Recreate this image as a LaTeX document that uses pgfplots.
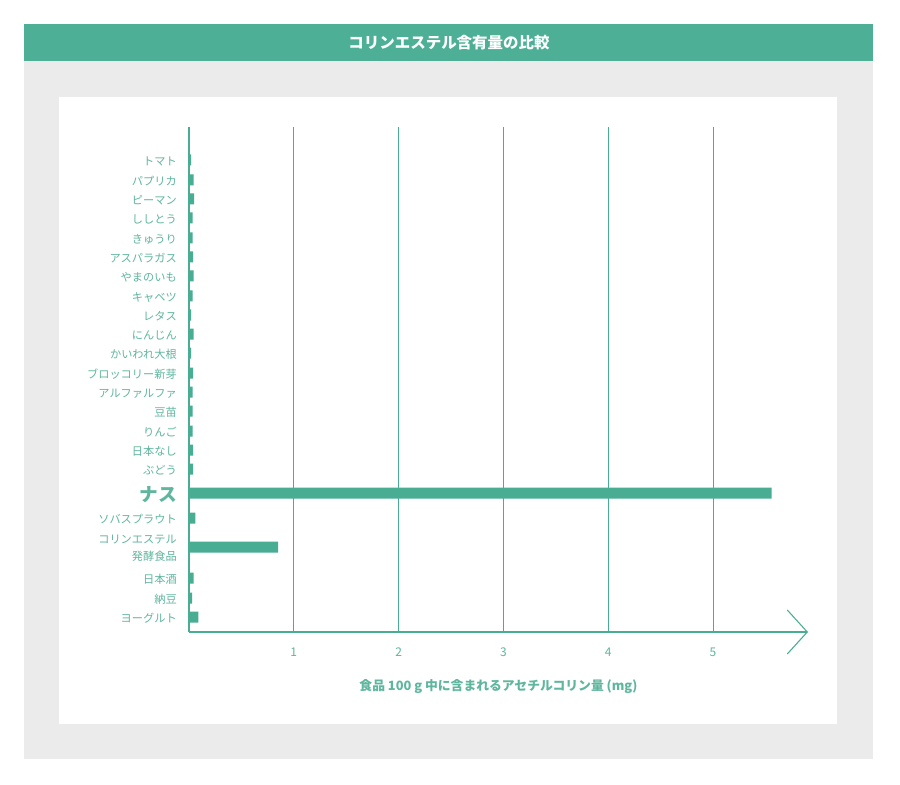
\documentclass[border=0pt]{standalone}
\usepackage{fontspec}
\setmainfont{Noto Sans CJK JP}
\usepackage{pgfplots}
\pgfplotsset{compat=1.18}
\usetikzlibrary{arrows.meta}
\definecolor{hdr}{RGB}{77,176,150}
\definecolor{barc}{RGB}{72,173,147}
\definecolor{lbl}{RGB}{95,182,158}
\definecolor{panel}{RGB}{235,235,235}

\begin{document}
\begin{tikzpicture}[x=0.75pt,y=0.75pt]
% canvas in px (900x785), y measured upward
\fill[white] (0,0) rectangle (900,785);
\fill[panel] (24,26) rectangle (873,724);
\fill[hdr] (24,724) rectangle (873,761);
\fill[white] (59,61) rectangle (837,688);
\node[white, font=\bfseries\fontsize{11.6}{13}\selectfont] at (449,742) {コリンエステル含有量の比較};

\begin{axis}[
  at={(141.75pt,114.75pt)}, anchor=south west,
  scale only axis, width=464.25pt, height=378.75pt,
  xmin=0, xmax=5.906, ymin=127, ymax=632, y dir=reverse,
  axis x line=bottom, axis y line=left,
  x axis line style={-{Straight Barb[length=15pt,width=33pt]}, line width=0.8pt, draw=barc},
  y axis line style={-, line width=0.8pt, draw=barc},
  xtick={1,2,3,4,5}, xmajorgrids, grid style={barc, line width=0.8pt},
  major tick length=0pt,
  /pgf/number format/assume math mode=true,
  xticklabel style={font=\fontsize{9}{10}\selectfont, text=lbl, inner sep=0pt, yshift=-11.5pt},
  ytick={160,180,199,218,238,257,276,296,315,334,353,373,392,411,431,450,469,493,518,547,578,598,617},
  yticklabels={トマト,パプリカ,ピーマン,ししとう,きゅうり,アスパラガス,やまのいも,キャベツ,レタス,にんじん,かいわれ大根,ブロッコリー新芽,アルファルファ,豆苗,りんご,日本なし,ぶどう,{\fontsize{14}{16}\selectfont\bfseries ナス},ソバスプラウト,{コリンエステル\\発酵食品},日本酒,納豆,ヨーグルト},
  yticklabel style={font=\fontsize{8.4}{12.5}\selectfont, text=lbl, inner sep=0pt, xshift=-9pt, yshift=-1pt, align=right},
  xlabel={\bfseries 食品 100 g 中に含まれるアセチルコリン量 (mg)},
  xlabel style={font=\fontsize{9.6}{11}\selectfont, text=lbl, at={(axis description cs:0.5,0)}, anchor=center, yshift=-41pt},
  xbar, bar width=8.25pt,
]
\addplot[fill=barc, draw=none] coordinates {
(0.02,160)(0.045,180)(0.05,199)(0.035,218)(0.035,238)(0.04,257)(0.045,276)(0.035,296)(0.02,315)
(0.045,334)(0.02,353)(0.04,373)(0.035,392)(0.035,411)(0.035,431)(0.04,450)(0.04,469)
(5.56,493)(0.06,518)(0.85,547)(0.045,578)(0.03,598)(0.09,617)};
\end{axis}
\end{tikzpicture}
\end{document}
